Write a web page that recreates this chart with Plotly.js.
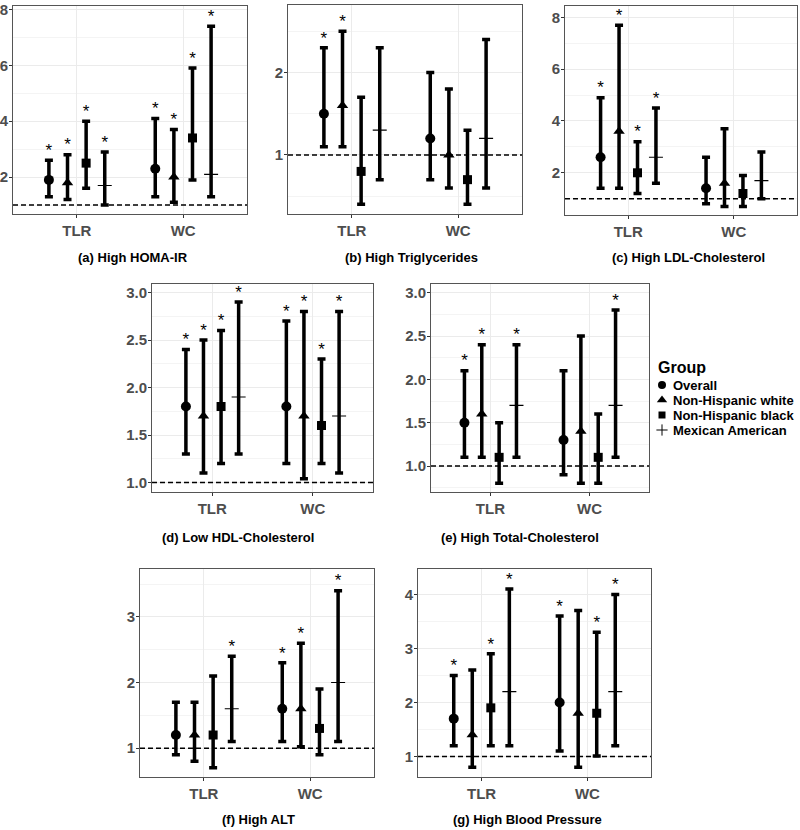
<!DOCTYPE html>
<html><head><meta charset="utf-8">
<script src="https://cdn.plot.ly/plotly-3.0.1.min.js"></script>
<style>html,body{margin:0;padding:0;background:#fff}#chart{width:800px;height:830px}</style>
</head><body><div id="chart"></div>
<script>
// ---------------- DATA ----------------
const categories = ['TLR', 'WC'];
const groups = ['Overall', 'Non-Hispanic white', 'Non-Hispanic black', 'Mexican American'];
const panelTitles = ['(a) High HOMA-IR', '(b) High Triglycerides', '(c) High LDL-Cholesterol',
  '(d) Low HDL-Cholesterol', '(e) High Total-Cholesterol', '(f) High ALT', '(g) High Blood Pressure'];
const legendTitle = 'Group';

// rows = groups (Overall, NH white, NH black, Mexican American); columns = categories (TLR, WC)
const homaOR  = [[1.9, 2.3], [1.8, 2.0], [2.5, 3.4], [1.7, 2.1]];
const homaLo  = [[1.3, 1.3], [1.2, 1.1], [1.6, 1.9], [1.0, 1.3]];
const homaHi  = [[2.6, 4.1], [2.8, 3.7], [4.0, 5.9], [2.9, 7.4]];
const homaSig = [[1, 1], [1, 1], [1, 1], [1, 1]];

const trigOR  = [[1.5, 1.2], [1.6, 1.0], [0.8, 0.7], [1.3, 1.2]];
const trigLo  = [[1.1, 0.7], [1.1, 0.6], [0.4, 0.4], [0.7, 0.6]];
const trigHi  = [[2.3, 2.0], [2.5, 1.8], [1.7, 1.3], [2.3, 2.4]];
const trigSig = [[1, 0], [1, 0], [0, 0], [0, 0]];

const ldlOR  = [[2.6, 1.4], [3.6, 1.6], [2.0, 1.2], [2.6, 1.7]];
const ldlLo  = [[1.4, 0.8], [1.4, 0.7], [1.2, 0.7], [1.6, 1.0]];
const ldlHi  = [[4.9, 2.6], [7.7, 3.7], [3.2, 1.9], [4.5, 2.8]];
const ldlSig = [[1, 0], [1, 0], [1, 0], [1, 0]];

const hdlOR  = [[1.8, 1.8], [1.7, 1.7], [1.8, 1.6], [1.9, 1.7]];
const hdlLo  = [[1.3, 1.2], [1.1, 1.04], [1.2, 1.2], [1.3, 1.1]];
const hdlHi  = [[2.4, 2.7], [2.5, 2.8], [2.6, 2.3], [2.9, 2.8]];
const hdlSig = [[1, 1], [1, 1], [1, 1], [1, 1]];

const tcOR  = [[1.5, 1.3], [1.6, 1.4], [1.1, 1.1], [1.7, 1.7]];
const tcLo  = [[1.1, 0.9], [1.1, 0.8], [0.8, 0.8], [1.1, 1.1]];
const tcHi  = [[2.1, 2.1], [2.4, 2.5], [1.5, 1.6], [2.4, 2.8]];
const tcSig = [[1, 0], [1, 0], [0, 0], [1, 1]];

const altOR  = [[1.2, 1.6], [1.2, 1.6], [1.2, 1.3], [1.6, 2.0]];
const altLo  = [[0.9, 1.1], [0.8, 1.02], [0.7, 0.9], [1.1, 1.1]];
const altHi  = [[1.7, 2.3], [1.7, 2.6], [2.1, 1.9], [2.4, 3.4]];
const altSig = [[0, 1], [0, 1], [0, 0], [1, 1]];

const bpOR  = [[1.7, 2.0], [1.4, 1.8], [1.9, 1.8], [2.2, 2.2]];
const bpLo  = [[1.2, 1.1], [0.8, 0.8], [1.2, 1.01], [1.2, 1.2]];
const bpHi  = [[2.5, 3.6], [2.6, 3.7], [2.9, 3.3], [4.1, 4.0]];
const bpSig = [[1, 1], [0, 0], [1, 1], [1, 1]];

const referenceOR = 1;

// ---------------- LAYOUT / STYLE ----------------
const W = 800, H = 830;
const FONT = 'Liberation Sans, Arial, Helvetica, sans-serif';
const symbols = ['circle', 'triangle-up', 'square', 'cross-thin'];
const symSizes = [10, 10, 9, 10];
const dodge = [-0.2625, -0.0875, 0.0875, 0.2625];

const panels = [
  {OR: homaOR, lo: homaLo, hi: homaHi, sig: homaSig, px: [13, 247], py: [6, 214], yr: [0.68, 8.12], dt: 2, mdt: 1, fmt: 'd', cap: [133, 257]},
  {OR: trigOR, lo: trigLo, hi: trigHi, sig: trigSig, px: [288, 522], py: [5, 214], yr: [0.283, 2.82], dt: 1, mdt: 0.5, fmt: 'd', cap: [411, 257]},
  {OR: ldlOR, lo: ldlLo, hi: ldlHi, sig: ldlSig, px: [565, 797], py: [6, 215], yr: [0.37, 8.44], dt: 2, mdt: 1, fmt: 'd', cap: [688, 257]},
  {OR: hdlOR, lo: hdlLo, hi: hdlHi, sig: hdlSig, px: [152, 373], py: [284, 492], yr: [0.90, 3.09], dt: 0.5, mdt: 0.25, fmt: '.1f', cap: [238, 537]},
  {OR: tcOR, lo: tcLo, hi: tcHi, sig: tcSig, px: [431, 649], py: [284, 492], yr: [0.70, 3.10], dt: 0.5, mdt: 0.25, fmt: '.1f', cap: [520, 537]},
  {OR: altOR, lo: altLo, hi: altHi, sig: altSig, px: [140, 374], py: [569, 777], yr: [0.56, 3.73], dt: 1, mdt: 0.5, fmt: 'd', cap: [258, 819]},
  {OR: bpOR, lo: bpLo, hi: bpHi, sig: bpSig, px: [418, 651], py: [569, 777], yr: [0.62, 4.47], dt: 1, mdt: 0.5, fmt: 'd', cap: [527, 819]}
];

const traces = [];
const layout = {
  width: W, height: H, margin: {l: 0, r: 0, t: 0, b: 0},
  paper_bgcolor: '#fff', plot_bgcolor: '#fff', showlegend: false,
  font: {family: FONT, color: '#000'},
  shapes: [], annotations: []
};

const catPos = categories.map((c, i) => i + 1);

panels.forEach((p, k) => {
  const n = k === 0 ? '' : String(k + 1);
  const xa = 'x' + n, ya = 'y' + n;
  groups.forEach((g, gi) => {
    const xs = catPos.map(c => c + dodge[gi]);
    const ys = p.OR[gi];
    traces.push({
      type: 'scatter', mode: 'markers', name: g, xaxis: xa, yaxis: ya,
      x: xs, y: ys, cliponaxis: false, hoverinfo: 'skip',
      marker: {symbol: symbols[gi], size: symSizes[gi], color: '#000',
               line: {width: gi === 3 ? 1.2 : 0, color: '#000'}},
      error_y: {type: 'data', symmetric: false,
                array: ys.map((v, j) => p.hi[gi][j] - v),
                arrayminus: ys.map((v, j) => v - p.lo[gi][j]),
                color: '#000', thickness: 3.5, width: 4}
    });
  });
  // significance stars
  const sx = [], sy = [];
  groups.forEach((g, gi) => {
    catPos.forEach((c, j) => {
      if (p.sig[gi][j]) { sx.push(c + dodge[gi]); sy.push(p.hi[gi][j]); }
    });
  });
  traces.push({
    type: 'scatter', mode: 'text', xaxis: xa, yaxis: ya, x: sx, y: sy,
    text: sx.map(() => '*'), textposition: 'top center', cliponaxis: false,
    textfont: {family: FONT, size: 17, color: '#000'}, hoverinfo: 'skip'
  });

  layout['xaxis' + n] = {
    domain: [p.px[0] / W, p.px[1] / W], anchor: ya,
    range: [0.4, 2.6], tickvals: catPos, ticktext: categories,
    showgrid: true, gridcolor: '#ebebeb', gridwidth: 1, zeroline: false,
    showline: true, mirror: true, linecolor: '#555', linewidth: 1,
    ticks: 'outside', ticklen: 3, tickcolor: '#333', tickwidth: 1,
    tickfont: {family: FONT, size: 15, color: '#4d4d4d', weight: 'bold'},
    fixedrange: true
  };
  layout['yaxis' + n] = {
    domain: [1 - p.py[1] / H, 1 - p.py[0] / H], anchor: xa,
    range: p.yr, tick0: 0, dtick: p.dt, tickformat: p.fmt,
    showgrid: true, gridcolor: '#ebebeb', gridwidth: 1, zeroline: false,
    minor: {tick0: 0, dtick: p.mdt, showgrid: true, gridcolor: '#f4f4f4', gridwidth: 1},
    showline: true, mirror: true, linecolor: '#555', linewidth: 1,
    ticks: 'outside', ticklen: 3, tickcolor: '#333', tickwidth: 1, ticklabelstandoff: -2,
    tickfont: {family: FONT, size: 15, color: '#4d4d4d', weight: 'bold'},
    fixedrange: true
  };
  layout.shapes.push({
    type: 'line', xref: xa + ' domain', yref: ya, x0: 0, x1: 1, y0: referenceOR, y1: referenceOR,
    line: {color: '#000', width: 1.5, dash: '5px,3px'}, layer: 'above'
  });
  layout.annotations.push({
    xref: 'paper', yref: 'paper', x: p.cap[0] / W, y: 1 - p.cap[1] / H,
    xanchor: 'center', yanchor: 'middle', showarrow: false, text: panelTitles[k],
    font: {family: FONT, size: 13, color: '#000', weight: 'bold'}
  });
});

// ---------------- LEGEND (custom, compact like ggplot) ----------------
const legRows = [385, 400, 415, 430];
const legSym = [8, 9, 7, 8];
layout.xaxis8 = {domain: [652 / W, 672 / W], range: [0, 1], visible: false, anchor: 'y8', fixedrange: true};
layout.yaxis8 = {domain: [1 - 437.5 / H, 1 - 377.5 / H], range: [3.5, -0.5], visible: false, anchor: 'x8', fixedrange: true};
groups.forEach((g, gi) => {
  traces.push({
    type: 'scatter', mode: 'markers', xaxis: 'x8', yaxis: 'y8', x: [0.5], y: [gi],
    hoverinfo: 'skip', cliponaxis: false,
    marker: {symbol: symbols[gi], size: legSym[gi], color: '#000', line: {width: gi === 3 ? 1 : 0, color: '#000'}}
  });
  layout.annotations.push({
    xref: 'paper', yref: 'paper', x: 672 / W, y: 1 - legRows[gi] / H, xanchor: 'left', yanchor: 'middle',
    showarrow: false, text: g, borderpad: 0, font: {family: FONT, size: 13, color: '#000', weight: 'bold'}
  });
});
layout.annotations.push({
  xref: 'paper', yref: 'paper', x: 657 / W, y: 1 - 368 / H, xanchor: 'left', yanchor: 'middle',
  showarrow: false, text: legendTitle, borderpad: 0, font: {family: FONT, size: 16, color: '#000', weight: 'bold'}
});

Plotly.newPlot('chart', traces, layout, {displayModeBar: false, staticPlot: true});
</script>
</body></html>
